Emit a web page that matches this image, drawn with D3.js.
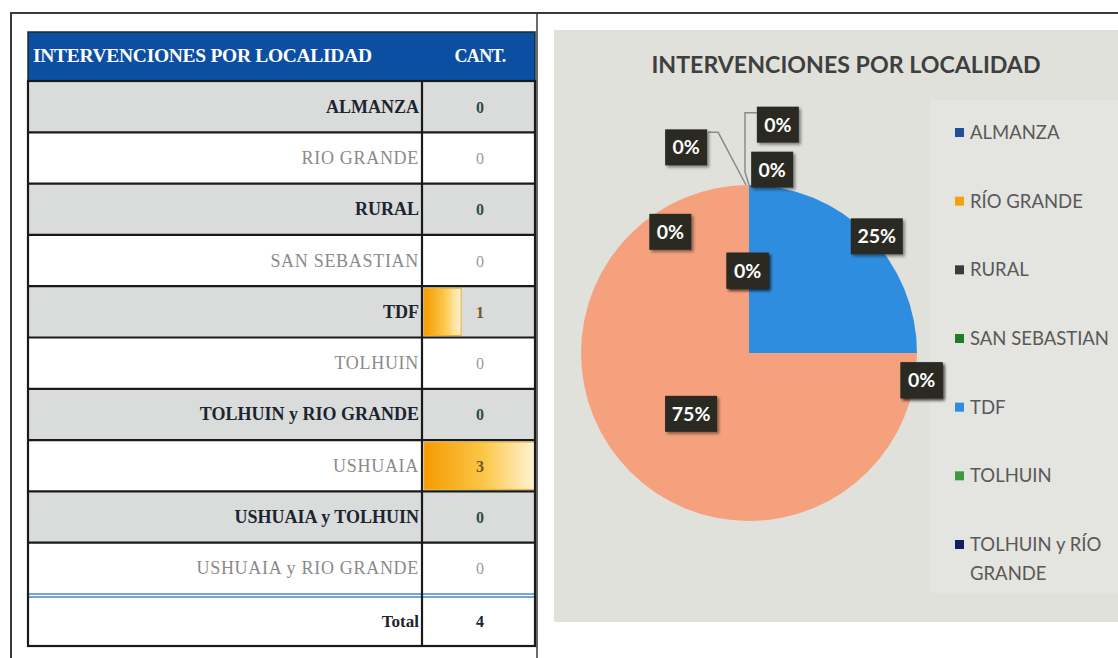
<!DOCTYPE html>
<html>
<head>
<meta charset="utf-8">
<script src="https://cdn.jsdelivr.net/npm/d3@7"></script>
<style>
  body { margin: 0; background: #fff; }
  svg { display: block; }
</style>
</head>
<body>
<div class="graphic"></div>
<script>
var width = 1118;
var height = 658;

// data
var categories = ["ALMANZA", "RIO GRANDE", "RURAL", "SAN SEBASTIAN", "TDF", "TOLHUIN",
	"TOLHUIN y RIO GRANDE", "USHUAIA", "USHUAIA y TOLHUIN", "USHUAIA y RIO GRANDE"];
var values = [0, 0, 0, 0, 1, 0, 0, 3, 0, 0];
var legendLabels = ["ALMANZA", "RÍO GRANDE", "RURAL", "SAN SEBASTIAN", "TDF", "TOLHUIN", "TOLHUIN y RÍO GRANDE"];
var tableTitle = "INTERVENCIONES POR LOCALIDAD";
var chartTitle = "INTERVENCIONES POR LOCALIDAD";
var totalLabel = "Total";

var sliceColors = ["#1f4e9c", "#f0a30a", "#3a3a3a", "#1e7b2a", "#2f8ddf", "#3c9a3c",
	"#0f2160", "#f5a17d", "#7f7f7f", "#b0b0b0"];

// where excel put the data labels (angle in degrees from 12 o'clock, distance in radii)
var labelPlace = [[343, 1.28], [7.2, 1.37], [7.2, 1.10], [359, 0.49], [47.6, 1.03], [99, 1.04],
	[99, 1.04], [223.6, 0.5], [327, 0.86], [359, 0.49]];

var svg = d3.select("div.graphic").append("svg")
	.attr("width", width)
	.attr("height", height);

var defs = svg.append("defs");
var grad = defs.append("linearGradient").attr("id", "bar").attr("x1", 0).attr("x2", 1).attr("y1", 0).attr("y2", 0);
grad.append("stop").attr("offset", "0%").attr("stop-color", "#f59a00");
grad.append("stop").attr("offset", "55%").attr("stop-color", "#fbc84a");
grad.append("stop").attr("offset", "100%").attr("stop-color", "#fff3d6");
var shadow = defs.append("filter").attr("id", "shadow").attr("x", "-30%").attr("y", "-30%").attr("width", "170%").attr("height", "170%");
shadow.append("feDropShadow").attr("dx", 2).attr("dy", 2).attr("stdDeviation", 1.5).attr("flood-color", "#000").attr("flood-opacity", 0.45);

// page frame
var frame = svg.append("g").attr("stroke", "#3a3a3a").attr("stroke-width", 2);
frame.append("line").attr("x1", 10).attr("x2", width).attr("y1", 13).attr("y2", 13);
frame.append("line").attr("x1", 11).attr("x2", 11).attr("y1", 13).attr("y2", height);
frame.append("line").attr("x1", 537).attr("x2", 537).attr("y1", 13).attr("y2", height).attr("stroke-width", 1.5);

// ---------- table ----------
var table = svg.append("g");
var tLeft = 28, tSplit = 422, tRight = 535;
var rowY = d3.scaleBand().domain(categories).range([81, 594]);
var barX = d3.scaleLinear().domain([0, d3.max(values)]).range([0, tRight - tSplit - 2]);

table.append("rect")
	.attr("x", tLeft).attr("y", 32).attr("width", tRight - tLeft).attr("height", 49)
	.attr("fill", "#0b4ea2").attr("stroke", "#1a2a3a").attr("stroke-width", 1.5);
table.append("text")
	.attr("x", 33).attr("y", 62)
	.attr("fill", "#fff").attr("font-family", "Liberation Serif").attr("font-weight", "bold")
	.attr("font-size", 19.5).attr("letter-spacing", -0.3)
	.text(tableTitle);
table.append("text")
	.attr("x", 480).attr("y", 62).attr("text-anchor", "middle")
	.attr("fill", "#fff").attr("font-family", "Liberation Serif").attr("font-weight", "bold")
	.attr("font-size", 18).attr("letter-spacing", -0.6)
	.text("CANT.");

var rows = table.selectAll("g.row")
	.data(categories.map(function(c, i){ return {name: c, value: values[i], i: i}; }))
	.enter()
	.append("g")
	.attr("class", "row");

rows.append("rect")
	.attr("x", tLeft).attr("y", function(d){ return rowY(d.name); })
	.attr("width", tRight - tLeft).attr("height", rowY.bandwidth())
	.attr("fill", function(d){ return d.i % 2 == 0 ? "#dadcdc" : "#fff"; });

rows.filter(function(d){ return d.value > 0; })
	.append("rect")
	.attr("x", tSplit + 2).attr("y", function(d){ return rowY(d.name) + 2; })
	.attr("width", function(d){ return barX(d.value); })
	.attr("height", rowY.bandwidth() - 4)
	.attr("fill", "url(#bar)")
	.attr("stroke", "#f2b030").attr("stroke-width", 1);

rows.append("text")
	.attr("x", tSplit - 3).attr("y", function(d){ return rowY(d.name) + rowY.bandwidth() / 2 + 6; })
	.attr("text-anchor", "end")
	.attr("font-family", "Liberation Serif")
	.attr("font-size", 18)
	.attr("letter-spacing", function(d){ return d.i % 2 == 0 ? 0 : 0.7; })
	.attr("font-weight", function(d){ return d.i % 2 == 0 ? "bold" : "normal"; })
	.attr("fill", function(d){ return d.i % 2 == 0 ? "#1c2430" : "#8a8a8a"; })
	.text(function(d){ return d.name; });

rows.append("text")
	.attr("x", 480).attr("y", function(d){ return rowY(d.name) + rowY.bandwidth() / 2 + 6; })
	.attr("text-anchor", "middle")
	.attr("font-family", "Liberation Serif").attr("font-size", 16)
	.attr("font-weight", function(d){ return d.i % 2 == 0 || d.value > 0 ? "bold" : "normal"; })
	.attr("fill", function(d){ return d.value > 0 ? "#6b5a20" : (d.i % 2 == 0 ? "#2e4a4a" : "#9a9a9a"); })
	.text(function(d){ return d.value; });

// row borders
table.selectAll("line.hrow")
	.data(categories.slice(1))
	.enter()
	.append("line")
	.attr("x1", tLeft).attr("x2", tRight)
	.attr("y1", function(d){ return rowY(d); }).attr("y2", function(d){ return rowY(d); })
	.attr("stroke", "#1a1a1a").attr("stroke-width", 2.2);

// total row
var totalTop = rowY.range()[1] + 2;
var totalBottom = 646;
table.append("rect")
	.attr("x", tLeft).attr("y", totalTop).attr("width", tRight - tLeft).attr("height", totalBottom - totalTop)
	.attr("fill", "#fff");
table.append("line").attr("x1", tLeft).attr("x2", tRight).attr("y1", totalTop - 2).attr("y2", totalTop - 2)
	.attr("stroke", "#4a86c8").attr("stroke-width", 1.5);
table.append("line").attr("x1", tLeft).attr("x2", tRight).attr("y1", totalTop + 1).attr("y2", totalTop + 1)
	.attr("stroke", "#4a86c8").attr("stroke-width", 1.5);
table.append("text")
	.attr("x", tSplit - 3).attr("y", (totalTop + totalBottom) / 2 + 6).attr("text-anchor", "end")
	.attr("font-family", "Liberation Serif").attr("font-size", 17).attr("font-weight", "bold")
	.attr("fill", "#1c2430").text(totalLabel);
table.append("text")
	.attr("x", 480).attr("y", (totalTop + totalBottom) / 2 + 6).attr("text-anchor", "middle")
	.attr("font-family", "Liberation Serif").attr("font-size", 16).attr("font-weight", "bold")
	.attr("fill", "#1c2430").text(d3.sum(values));

// table outline and column divider
table.append("rect")
	.attr("x", tLeft).attr("y", rowY.range()[0]).attr("width", tRight - tLeft).attr("height", totalBottom - rowY.range()[0])
	.attr("fill", "none").attr("stroke", "#1a1a1a").attr("stroke-width", 2.2);
table.append("line")
	.attr("x1", tSplit).attr("x2", tSplit).attr("y1", rowY.range()[0]).attr("y2", totalBottom)
	.attr("stroke", "#1a1a1a").attr("stroke-width", 2.2);

// ---------- pie chart ----------
var chart = svg.append("g");
chart.append("rect")
	.attr("x", 554).attr("y", 30).attr("width", width - 554).attr("height", 592)
	.attr("fill", "#e1e1dc");
chart.append("rect")
	.attr("x", 930).attr("y", 100).attr("width", width - 930).attr("height", 493)
	.attr("fill", "#e4e4e0");

chart.append("text")
	.attr("x", 846).attr("y", 73).attr("text-anchor", "middle")
	.attr("font-family", "Lato").attr("font-weight", "bold").attr("font-size", 23.2)
	.attr("fill", "#3f3f3f")
	.text(chartTitle);

var cx = 749, cy = 353, radius = 168;
var pie = d3.pie().sort(null).value(function(d){ return d.value; });
var arc = d3.arc().innerRadius(0).outerRadius(radius);
var pieData = pie(categories.map(function(c, i){ return {name: c, value: values[i], i: i}; }));

var pieG = chart.append("g").attr("transform", "translate(" + cx + "," + cy + ")");
pieG.selectAll("path")
	.data(pieData)
	.enter()
	.append("path")
	.attr("d", arc)
	.attr("fill", function(d){ return sliceColors[d.data.i]; });

var total = d3.sum(values);
var pct = d3.format(".0%");
function polar(angleDeg, dist){
	var a = angleDeg * Math.PI / 180;
	return [Math.sin(a) * dist * radius, -Math.cos(a) * dist * radius];
}

// leader lines for the first two labels that sit far from the slice
var top0 = polar(0, 1);
var p0 = polar(labelPlace[0][0], labelPlace[0][1]);
var p1 = polar(labelPlace[1][0], labelPlace[1][1]);
var leaders = [
	[[p0[0] + 22, p0[1] - 15], [p0[0] + 32, p0[1] - 15], [top0[0] - 3, top0[1]]],
	[[p1[0] - 21, p1[1] - 12], [top0[0] - 4, p1[1] - 12], [top0[0] - 4, top0[1] - 13], [top0[0], top0[1]]]
];
pieG.selectAll("path.leader")
	.data(leaders)
	.enter()
	.append("path")
	.attr("class", "leader")
	.attr("d", d3.line())
	.attr("fill", "none").attr("stroke", "#8a8a8a").attr("stroke-width", 1.5);

// draw labels in an order so the ones hidden in the reference stay under
var drawOrder = [9, 6, 3, 8, 2, 0, 1, 4, 5, 7];
var labels = pieG.selectAll("g.lbl")
	.data(drawOrder.map(function(i){ return pieData[i]; }))
	.enter()
	.append("g")
	.attr("class", "lbl")
	.attr("transform", function(d){
		var p = polar(labelPlace[d.data.i][0], labelPlace[d.data.i][1]);
		return "translate(" + p[0] + "," + p[1] + ")";
	});
labels.append("rect")
	.attr("x", function(d){ return d.data.value > 0 ? -26 : -21; })
	.attr("width", function(d){ return d.data.value > 0 ? 52 : 42; })
	.attr("y", -18).attr("height", 36)
	.attr("fill", "#2a2a24")
	.attr("filter", "url(#shadow)");
labels.append("text")
	.attr("y", 7).attr("text-anchor", "middle")
	.attr("font-family", "Lato").attr("font-weight", "bold").attr("font-size", 19.5)
	.attr("fill", "#fff")
	.text(function(d){ return pct(d.data.value / total); });

// legend
var legendY = d3.scalePoint().domain(legendLabels).range([133, 545]);
var legend = chart.selectAll("g.leg")
	.data(legendLabels)
	.enter()
	.append("g")
	.attr("class", "leg")
	.attr("transform", function(d){ return "translate(955," + legendY(d) + ")"; });
legend.append("rect")
	.attr("x", 0).attr("y", -5).attr("width", 9).attr("height", 9)
	.attr("fill", function(d, i){ return sliceColors[i]; });
legend.append("text")
	.attr("x", 15).attr("y", 6)
	.attr("font-family", "Lato").attr("font-size", 18.5)
	.attr("fill", "#595959")
	.each(function(d){
		var t = d3.select(this);
		if (d.length > 16) {
			var cut = d.lastIndexOf(" ");
			t.append("tspan").attr("x", 15).text(d.slice(0, cut));
			t.append("tspan").attr("x", 15).attr("dy", 29).text(d.slice(cut + 1));
		} else {
			t.text(d);
		}
	});
</script>
</body>
</html>
